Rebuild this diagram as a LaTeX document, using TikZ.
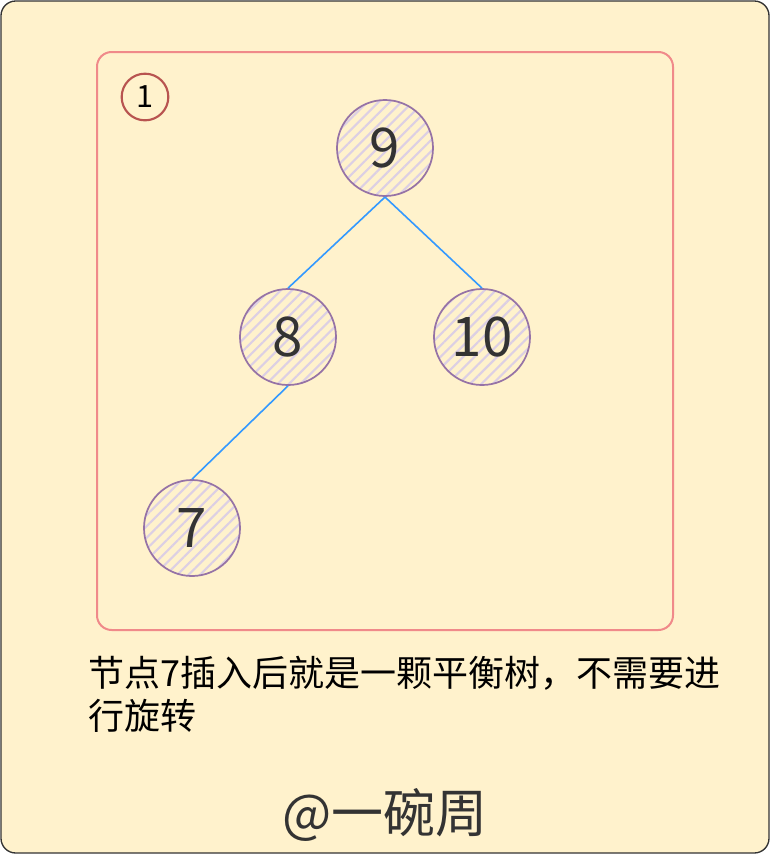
\documentclass[tikz,border=0pt]{standalone}
\usepackage{fontspec}
\setmainfont{Noto Sans CJK SC}
\usetikzlibrary{patterns.meta}
\definecolor{paper}{HTML}{FFF2CC}
\definecolor{framepink}{HTML}{F08A8A}
\definecolor{markred}{HTML}{B85450}
\definecolor{nodepurple}{HTML}{9673A6}
\definecolor{hatchpurple}{HTML}{DCCFE4}
\definecolor{linkblue}{HTML}{3399FF}
\definecolor{darktext}{HTML}{333333}
\begin{document}
\begin{tikzpicture}[x=0.75pt,y=-0.75pt,
  treenode/.style={circle,draw=nodepurple,line width=1.3pt,minimum size=72pt,inner sep=0pt,
    pattern={Lines[angle=45,distance=6pt,line width=1.6pt]},pattern color=hatchpurple,
    text=darktext,font=\fontsize{41}{41}\selectfont},
  link/.style={draw=linkblue,line width=1.2pt}]
  \useasboundingbox (0,0) rectangle (770,854);
  \draw[fill=paper,draw=darktext,line width=1pt,rounded corners=11pt] (1,1) rectangle (769,853);
  \draw[draw=framepink,line width=1.5pt,rounded corners=11pt] (97,52) rectangle (673,630);
  \node[circle,draw=markred,line width=1.6pt,minimum size=35pt,inner sep=0pt,
    font=\fontsize{23}{23}\selectfont] (step1) at (145,97) {1};
  \node[treenode] (n9)  at (385,148) {9};
  \node[treenode] (n8)  at (288,337) {8};
  \node[treenode] (n10) at (482,337) {10};
  \node[treenode] (n7)  at (192,528) {7};
  \path[link] (n9.south) edge (n8.north);
  \path[link] (n9.south) edge (n10.north);
  \path[link] (n8.south) edge (n7.north);
  \node[anchor=north west,align=left,inner sep=0pt,font=\fontsize{27}{32}\selectfont]
    (note) at (88,656) {节点7插入后就是一颗平衡树，不需要进\\行旋转};
  \node[text=darktext,font=\fontsize{39}{39}\selectfont] (sign) at (385,815) {@一碗周};
\end{tikzpicture}
\end{document}
